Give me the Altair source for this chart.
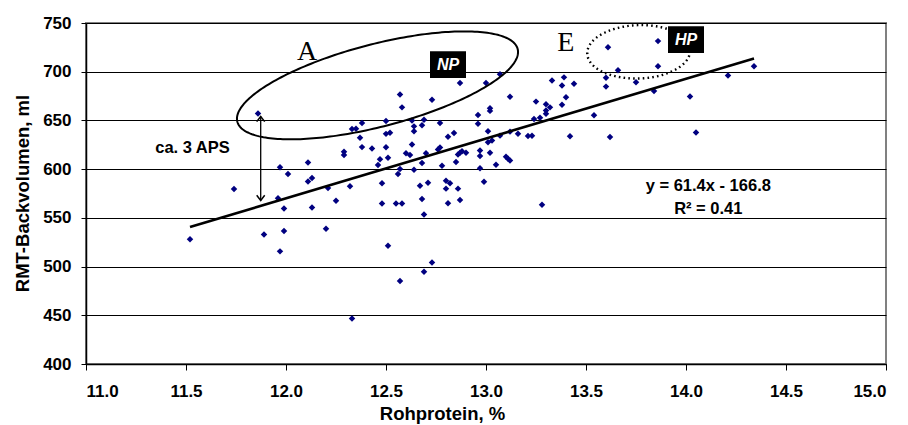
import math
import altair as alt
import pandas as pd

# ---------------- data ----------------
protein = [11.52, 11.74, 11.86, 11.89, 11.96, 11.97, 11.97, 11.99, 11.99, 12.01,
           12.11, 12.11, 12.13, 12.13, 12.20, 12.21, 12.25, 12.29, 12.29, 12.32,
           12.33, 12.33, 12.35, 12.37, 12.38, 12.38, 12.43, 12.47, 12.46, 12.48,
           12.48, 12.50, 12.50, 12.52, 12.50, 12.51, 12.51, 12.55, 12.56, 12.57,
           12.57, 12.58, 12.57, 12.58, 12.60, 12.62, 12.63, 12.64, 12.64, 12.63,
           12.64, 12.68, 12.69, 12.68, 12.67, 12.68, 12.69, 12.69, 12.71, 12.70,
           12.73, 12.73, 12.76, 12.77, 12.77, 12.78, 12.80, 12.80, 12.82, 12.81,
           12.81, 12.84, 12.85, 12.86, 12.86, 12.87, 12.87, 12.87, 12.88, 12.90,
           12.96, 12.96, 12.97, 12.97, 12.97, 12.99, 13.00, 13.01, 13.01, 13.02,
           13.02, 13.02, 13.03, 13.05, 13.07, 13.07, 13.10, 13.12, 13.11, 13.12,
           13.12, 13.16, 13.21, 13.23, 13.24, 13.27, 13.25, 13.28, 13.30, 13.32,
           13.30, 13.30, 13.33, 13.38, 13.39, 13.38, 13.40, 13.42, 13.44, 13.54,
           13.60, 13.60, 13.61, 13.62, 13.66, 13.75, 13.84, 13.86, 13.86, 14.02,
           14.05, 14.21, 14.34]

volume = [528.1, 579.7, 657.2, 532.9, 570.2, 515.6, 601.9, 559.6, 536.5, 595.1,
          606.9, 587.4, 591.0, 560.6, 538.8, 580.7, 567.5, 617.9, 614.4, 582.4,
          446.8, 641.1, 641.5, 632.3, 647.3, 622.6, 621.1, 610.2, 604.3, 585.5,
          564.8, 649.3, 636.2, 637.4, 622.5, 521.3, 611.7, 564.8, 595.1, 600.2,
          676.7, 663.4, 485.3, 564.8, 616.4, 614.6, 650.0, 643.9, 638.9, 625.2,
          599.4, 645.1, 650.8, 606.2, 583.0, 569.4, 553.5, 494.6, 586.1, 616.4,
          671.3, 504.1, 620.2, 622.3, 647.3, 603.6, 580.0, 588.1, 585.6, 565.1,
          633.3, 637.2, 607.4, 580.0, 615.1, 688.4, 568.4, 616.9, 618.4, 616.8,
          646.6, 655.5, 619.2, 613.4, 601.0, 587.0, 688.4, 639.0, 627.7, 616.9,
          662.4, 659.8, 629.3, 604.5, 634.4, 697.3, 612.8, 674.2, 610.7, 608.9,
          638.5, 636.4, 634.1, 634.3, 651.4, 652.8, 669.3, 563.5, 666.5, 663.4,
          660.3, 656.9, 691.1, 666.0, 694.2, 685.8, 673.9, 633.8, 687.7, 655.2,
          684.7, 693.9, 725.2, 632.9, 701.6, 689.3, 680.1, 731.4, 705.5, 674.5,
          637.7, 696.1, 705.5]

x_ticks = [11.0, 11.5, 12.0, 12.5, 13.0, 13.5, 14.0, 14.5, 15.0]
y_ticks = [400, 450, 500, 550, 600, 650, 700, 750]

slope, intercept = 61.4, -166.8
trend_x = [11.52, 14.34]
equation_lines = ["y = 61.4x - 166.8", "R\u00b2 = 0.41"]

X_DOMAIN = [11.0, 15.0]
Y_DOMAIN = [400, 750]
W, H = 800, 341

# ---------------- helpers ----------------
def px_dx(p):
    return p * (X_DOMAIN[1] - X_DOMAIN[0]) / W


def px_dy(p):
    return p * (Y_DOMAIN[1] - Y_DOMAIN[0]) / H


def ellipse(cx, cy, a_px, b_px, theta_deg, n=240):
    th = math.radians(theta_deg)
    rows = []
    for i in range(n + 1):
        t = 2 * math.pi * i / n
        dx = a_px * math.cos(t) * math.cos(th) - b_px * math.sin(t) * math.sin(th)
        dy = a_px * math.cos(t) * math.sin(th) + b_px * math.sin(t) * math.cos(th)
        rows.append({"i": i, "x": cx + px_dx(dx), "y": cy + px_dy(dy)})
    return pd.DataFrame(rows)


xs = alt.Scale(domain=X_DOMAIN, nice=False, zero=False)
ys = alt.Scale(domain=Y_DOMAIN, nice=False, zero=False)

x_axis = alt.Axis(values=x_ticks, format=".1f", grid=False, title="Rohprotein, %",
                  domainColor="black", domainWidth=1.5, tickColor="black", tickSize=6,
                  labelPadding=13, labelFontSize=17, labelFont="Liberation Sans",
                  labelFontWeight="bold", labelColor="black",
                  titleFont="Liberation Sans", titleFontSize=18.5, titleFontWeight="bold",
                  titleColor="black", titleX=356, titleY=55, titleBaseline="alphabetic")
y_axis = alt.Axis(values=y_ticks, grid=True, gridColor="black", gridWidth=1, gridOpacity=1,
                  title="RMT-Backvolumen, ml",
                  domainColor="black", domainWidth=1.5, tickColor="black", tickSize=5,
                  labelPadding=10, labelFontSize=17, labelFont="Liberation Sans",
                  labelFontWeight="bold", labelColor="black",
                  titleFont="Liberation Sans", titleFontSize=18.5, titleFontWeight="bold",
                  titleColor="black", titleX=-58, titleY=170, titleAngle=270,
                  titleBaseline="alphabetic")

pts = pd.DataFrame({"x": protein, "y": volume})
points = alt.Chart(pts).mark_point(shape="diamond", filled=True, color="#000080",
                                   size=42, opacity=1).encode(
    x=alt.X("x:Q", scale=xs, axis=x_axis),
    y=alt.Y("y:Q", scale=ys, axis=y_axis),
)

trend = pd.DataFrame({"x": trend_x, "y": [slope * v + intercept for v in trend_x]})
trend_line = alt.Chart(trend).mark_line(color="black", strokeWidth=2.6).encode(
    x=alt.X("x:Q", scale=xs), y=alt.Y("y:Q", scale=ys))

ell_a = alt.Chart(ellipse(12.4575, 686.0, 144.8, 41.2, 14.55)).mark_line(
    color="black", strokeWidth=2).encode(
    x=alt.X("x:Q", scale=xs), y=alt.Y("y:Q", scale=ys), order="i:Q")

ell_e = alt.Chart(ellipse(13.7635, 720.4, 51.5, 26.7, 2)).mark_line(
    color="black", strokeWidth=2.4, strokeDash=[1.6, 3.2]).encode(
    x=alt.X("x:Q", scale=xs), y=alt.Y("y:Q", scale=ys), order="i:Q")

boxes = pd.DataFrame({"x": [12.72, 13.91], "x2": [12.90, 14.09],
                      "y": [720.9, 746.6], "y2": [693.5, 719.2]})
box_layer = alt.Chart(boxes).mark_rect(color="black").encode(
    x=alt.X("x:Q", scale=xs), x2="x2:Q", y=alt.Y("y:Q", scale=ys), y2="y2:Q")

box_text = pd.DataFrame({"x": [12.81, 14.0], "y": [707.3, 732.9], "t": ["NP", "HP"]})
box_labels = alt.Chart(box_text).mark_text(color="white", font="Liberation Sans",
                                           fontSize=16, fontWeight="bold", fontStyle="italic",
                                           baseline="middle").encode(
    x=alt.X("x:Q", scale=xs), y=alt.Y("y:Q", scale=ys), text="t:N")

letters = pd.DataFrame({"x": [12.105, 13.399], "y": [712.4, 721.2], "t": ["A", "E"]})
letter_layer = alt.Chart(letters).mark_text(color="black", font="Liberation Serif",
                                            fontSize=28, baseline="alphabetic").encode(
    x=alt.X("x:Q", scale=xs), y=alt.Y("y:Q", scale=ys), text="t:N")

notes = pd.DataFrame({"x": [11.5325, 14.1115, 14.1115], "y": [621.5, 583.2, 559.3],
                      "t": ["ca. 3 APS"] + equation_lines})
note_layer = alt.Chart(notes).mark_text(color="black", font="Liberation Sans",
                                        fontSize=16.5, fontWeight="bold",
                                        baseline="middle").encode(
    x=alt.X("x:Q", scale=xs), y=alt.Y("y:Q", scale=ys), text="t:N")

arrow = pd.DataFrame({"x": [11.8735], "y": [654.1], "y2": [567.8]})
shaft = alt.Chart(arrow).mark_rule(color="black", strokeWidth=1.3).encode(
    x=alt.X("x:Q", scale=xs), y=alt.Y("y:Q", scale=ys), y2="y2:Q")
head_up = alt.Chart(arrow).mark_point(shape="M -1 1.3 L 0 0 L 1 1.3", filled=False,
                                      color="black", size=64, strokeWidth=1.5, opacity=1).encode(
    x=alt.X("x:Q", scale=xs), y=alt.Y("y:Q", scale=ys))
head_down = alt.Chart(arrow).mark_point(shape="M -1 -1.3 L 0 0 L 1 -1.3", filled=False,
                                        color="black", size=64, strokeWidth=1.5, opacity=1).encode(
    x=alt.X("x:Q", scale=xs), y=alt.Y("y2:Q", scale=ys))

chart = alt.layer(
    points, trend_line, ell_a, ell_e, box_layer, box_labels, letter_layer,
    note_layer, shaft, head_up, head_down
).properties(
    width=W, height=H, autosize="none",
    padding={"left": 78, "top": 15, "right": 14, "bottom": 60},
    background="white",
).configure_view(stroke="#808080", strokeWidth=2)

chart.save("out.html", embed_options={"renderer": "svg", "actions": False})
